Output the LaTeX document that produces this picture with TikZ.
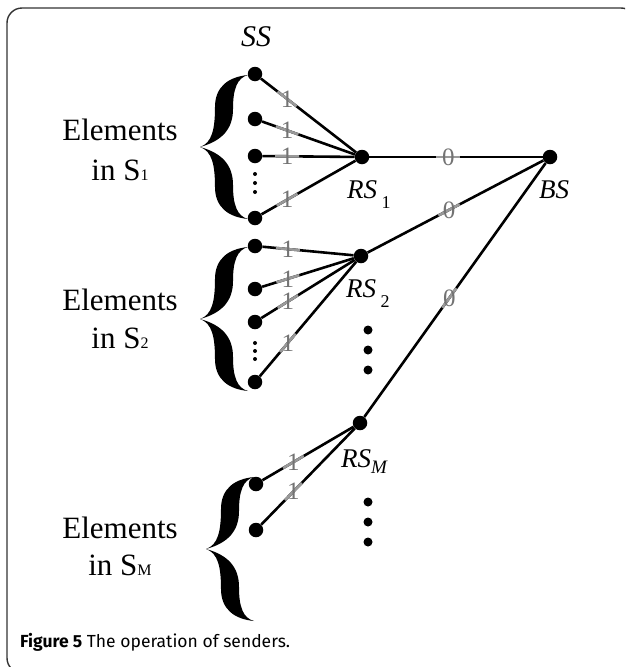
\documentclass[tikz,border=0pt]{standalone}
\usepackage{fontspec}
\setmainfont{Liberation Serif}
\newfontfamily\capfont{Fira Sans}
\usetikzlibrary{calc}

\tikzset{
  dot/.style={circle, fill=black, inner sep=0pt, minimum size=14.5pt},
  rsdot/.style={circle, fill=black, inner sep=0pt, minimum size=9pt},
  tinydot/.style={circle, fill=black, inner sep=0pt, minimum size=4pt},
  link/.style={line width=2.6pt, black},
  linkmark/.style={line width=2.6pt, black!40},
  weight/.style={text=black!55, font=\fontsize{25}{25}\selectfont, inner sep=0pt},
  lab/.style={font=\fontsize{27}{27}\selectfont\itshape, inner sep=0pt, anchor=base west},
  setlab/.style={font=\fontsize{31}{31}\selectfont, anchor=base, inner sep=0pt},
  frameline/.style={line width=1.4pt, black!80, rounded corners=15pt},
  curlybrace/.pic={
    \foreach \s in {1,-1}{
      \fill[yscale=\s] (48,-72) .. controls (28,-70) and (15,-60) .. (15,-40)
        .. controls (15,-18) and (12,-4) .. (0,0)
        .. controls (22,-6) and (33,-18) .. (33,-38)
        .. controls (33,-58) and (37,-69) .. (48,-72) -- cycle;
    }
  }
}

% edge carrying a grey weight label
\newcommand\weighted[4]{%
  \draw[link] (#1) -- (#2);
  \coordinate (#1-#2-w) at ($(#1)!#3!(#2)$);
  \draw[linkmark] ($(#1-#2-w)!12pt!(#1)$) -- ($(#1-#2-w)!12pt!(#2)$);
  \node[weight] (#1-#2-t) at (#1-#2-w) {#4};
}
\newcommand\subsm[1]{{\upshape\fontsize{16}{16}\selectfont #1}}

\begin{document}
\begin{tikzpicture}[x=1pt, y=-1pt]
  \useasboundingbox (0,0) rectangle (625,667);
  \clip (0,0) rectangle (625,667);

  % frame
  \draw[frameline] (7,8) rectangle (636,673);

  % braces
  \pic at (200,147) {curlybrace};
  \pic at (200,319) {curlybrace};
  \pic at (206,549) {curlybrace};

  % set labels
  \node[setlab] (e1) at (120,140) {Elements};
  \node[setlab] (i1) at (120,180) {in S\subsm{1}};
  \node[setlab] (e2) at (120,310) {Elements};
  \node[setlab] (i2) at (120,348) {in S\subsm{2}};
  \node[setlab] (eM) at (120,538) {Elements};
  \node[setlab] (iM) at (120,575) {in S\subsm{M}};

  % sender nodes
  \node[dot] (a1) at (255,74) {};
  \node[dot] (a2) at (255,119) {};
  \node[dot] (a3) at (255,156) {};
  \node[dot] (a4) at (255,218) {};
  \node[dot] (b1) at (255,246) {};
  \node[dot] (b2) at (255,289) {};
  \node[dot] (b3) at (255,322) {};
  \node[dot] (b4) at (255,382) {};
  \node[dot] (m1) at (256,484) {};
  \node[dot] (m2) at (256,530) {};

  % small vertical ellipses inside the sets
  \foreach \y [count=\i] in {174,183,192} \node[tinydot] (da\i) at (255,\y) {};
  \foreach \y [count=\i] in {343,351,359} \node[tinydot] (db\i) at (255,\y) {};

  % relays and base station
  \node[dot] (rs1) at (362,157) {};
  \node[dot] (rs2) at (361,256) {};
  \node[dot] (rsm) at (360,423) {};
  \node[dot] (bs) at (550,157) {};

  % relay ellipses
  \foreach \y [count=\i] in {330,350,370} \node[rsdot] (dr\i) at (368,\y) {};
  \foreach \y [count=\i] in {502,522,542} \node[rsdot] (ds\i) at (368,\y) {};

  % labels
  \node[font=\fontsize{30}{30}\selectfont\itshape, inner sep=0pt] (ss) at (256,37) {SS};
  \node[lab] (l1) at (347,198) {RS\,\raisebox{-10pt}{\subsm{\fontsize{18}{18}\selectfont 1}}};
  \node[lab] (l2) at (346,297) {RS\,\raisebox{-10pt}{\subsm{\fontsize{18}{18}\selectfont 2}}};
  \node[lab] (lm) at (341,467) {RS\raisebox{-6pt}{\fontsize{19}{19}\selectfont\itshape M}};
  \node[lab] (lb) at (539,198) {BS};

  % links with weights
  \weighted{a1}{rs1}{0.30}{1}
  \weighted{a2}{rs1}{0.30}{1}
  \weighted{a3}{rs1}{0.30}{1}
  \weighted{a4}{rs1}{0.30}{1}
  \weighted{b1}{rs2}{0.31}{1}
  \weighted{b2}{rs2}{0.31}{1}
  \weighted{b3}{rs2}{0.31}{1}
  \weighted{b4}{rs2}{0.31}{1}
  \weighted{m1}{rsm}{0.36}{1}
  \weighted{m2}{rsm}{0.36}{1}
  \weighted{rs1}{bs}{0.46}{0}
  \weighted{rs2}{bs}{0.466}{0}
  \weighted{rsm}{bs}{0.47}{0}

  % caption
  \node[anchor=base west, inner sep=0pt, font=\capfont\fontsize{17.5}{17.5}\selectfont] (cap) at (20,647)
    {\textbf{Figure 5} The operation of senders.};
\end{tikzpicture}
\end{document}
